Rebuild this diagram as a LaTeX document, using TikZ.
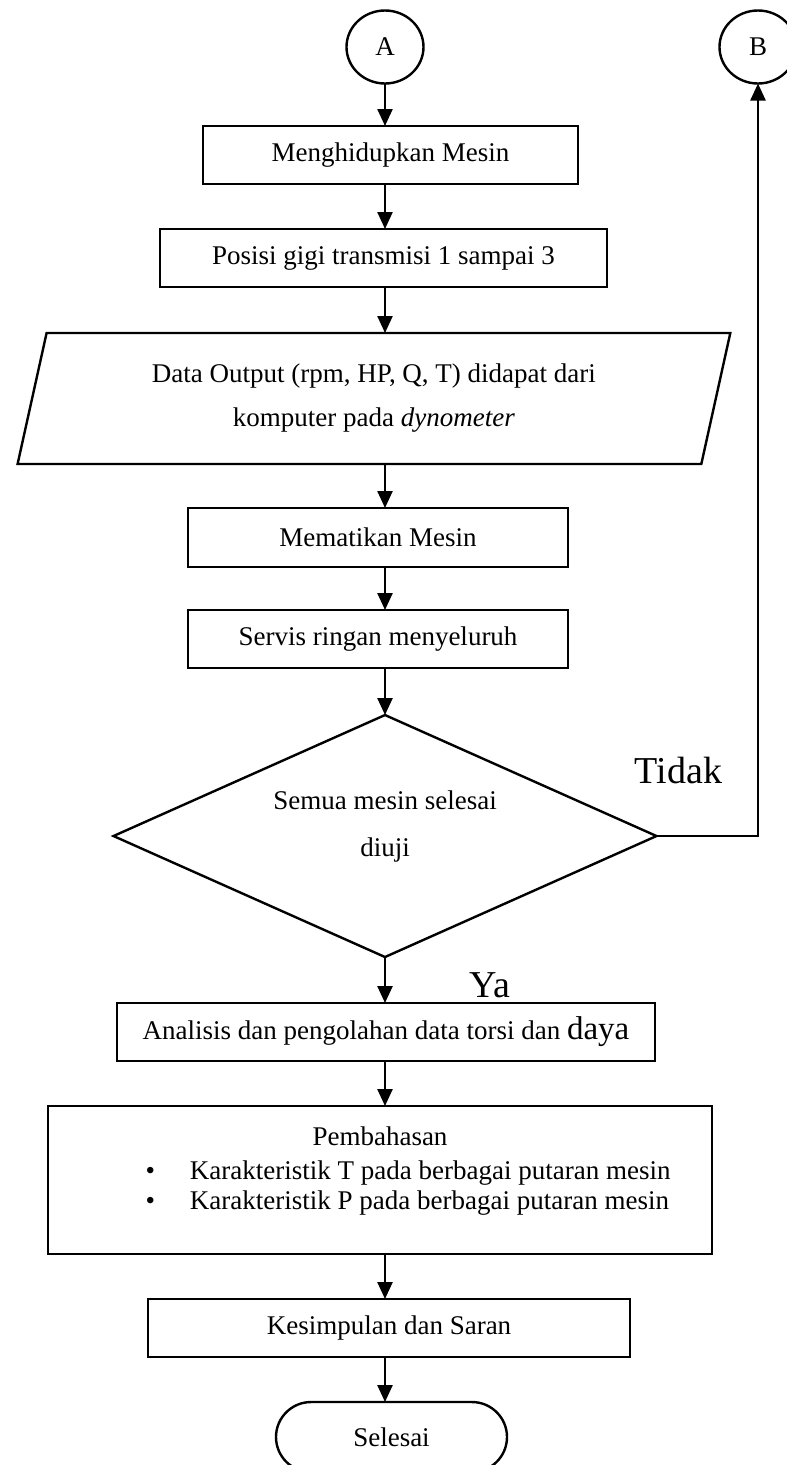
\documentclass[tikz,border=0pt]{standalone}
\usepackage{fontspec}
\setmainfont{Liberation Serif}
\usetikzlibrary{positioning,arrows.meta,shapes.geometric,shapes.misc}

\begin{document}
\begin{tikzpicture}
    [x=1pt,y=-1pt,
     font=\fontsize{27}{44}\selectfont,
     line width=2.4pt,
     every node/.style={outer sep=0pt},
     proc/.style={rectangle,draw,inner sep=0pt,minimum height=58pt},
     conn/.style={ellipse,draw,inner sep=0pt,minimum width=77pt,minimum height=73pt},
     io/.style={trapezium,draw,trapezium left angle=74,trapezium right angle=106,
                trapezium stretches=true,inner sep=0pt,minimum height=131pt,align=center},
     decide/.style={diamond,draw,inner sep=0pt,minimum width=543pt,minimum height=242pt},
     stopbox/.style={rounded rectangle,draw,inner sep=0pt,minimum width=231pt,minimum height=70pt},
     flow/.style={-{Triangle[length=17pt,width=15pt]}},
     lbl/.style={font=\fontsize{38}{44}\selectfont}]

    \useasboundingbox (0,0) rectangle (787,1465);
    \coordinate (spine) at (385,0);

    \node[conn] (a) at (385,47) {A};
    \node[conn] (b) [right=296pt of a] {B};

    \node[proc,minimum width=375pt] (hidup) [below=42.5pt of a,xshift=5.5pt] {Menghidupkan Mesin};
    \node[proc,minimum width=447pt] (posisi) [below=45pt of hidup,xshift=-7pt] {Posisi gigi transmisi 1 sampai 3};
    \node[io,minimum width=716pt] (data) [below=46pt of posisi,xshift=-9.5pt]
      {Data Output (rpm, HP, Q, T) didapat dari\\komputer pada \textit{dynometer}};
    \node[proc,minimum width=380pt,minimum height=59pt] (mati) [below=44pt of data,xshift=4pt] {Mematikan Mesin};
    \node[proc,minimum width=380pt] (servis) [below=43pt of mati] {Servis ringan menyeluruh};

    \node[decide] (cek) [below=47pt of servis,xshift=7pt] {};
    \node[align=center,font=\fontsize{27}{47}\selectfont] (cektxt) at ([yshift=10pt]cek.center)
      {Semua mesin selesai\\diuji};
    \node[lbl] (tidak) at ([xshift=22pt,yshift=66pt]cek.east) {Tidak};
    \node[lbl] (ya) at ([xshift=105pt,yshift=-28pt]cek.south) {Ya};

    \node[proc,minimum width=538pt] (analisis) [below=46pt of cek,xshift=1pt]
      {Analisis dan pengolahan data torsi dan {\fontsize{33}{40}\selectfont daya}};

    \node[proc,minimum width=664pt,minimum height=148pt] (bahas) [below=45pt of analisis,xshift=-6pt] {};
    \node (pemb) at ([yshift=-30pt]bahas.north) {Pembahasan};
    \node[anchor=west,inner sep=0pt] (itemT) at ([xshift=97.5pt,yshift=7pt]bahas.west)
      {\makebox[44.5pt][l]{\textbullet}Karakteristik T pada berbagai putaran mesin};
    \node[anchor=west,inner sep=0pt] (itemP) at ([xshift=97.5pt,yshift=-23pt]bahas.west)
      {\makebox[44.5pt][l]{\textbullet}Karakteristik P pada berbagai putaran mesin};

    \node[proc,minimum width=482pt] (simpul) [below=45pt of bahas,xshift=9pt] {Kesimpulan dan Saran};
    \node[stopbox] (selesai) [below=45pt of simpul,xshift=2.5pt] {Selesai};

    % alur utama
    \draw[flow] (a) -- (a |- hidup.north);
    \draw[flow] (hidup.south -| spine) -- (posisi.north -| spine);
    \draw[flow] (posisi.south -| spine) -- (data.north -| spine);
    \draw[flow] (data.south -| spine) -- (mati.north -| spine);
    \draw[flow] (mati.south -| spine) -- (servis.north -| spine);
    \draw[flow] (servis.south -| cek.north) -- (cek.north);
    \draw[flow] (cek.south) -- (analisis.north -| cek.south);
    \draw[flow] (analisis.south -| spine) -- (bahas.north -| spine);
    \draw[flow] (bahas.south -| spine) -- (simpul.north -| spine);
    \draw[flow] (simpul.south -| spine) -- (selesai.north -| spine);

    % kembali ke B
    \draw[flow] (cek.east) -| (b.south);
\end{tikzpicture}
\end{document}
